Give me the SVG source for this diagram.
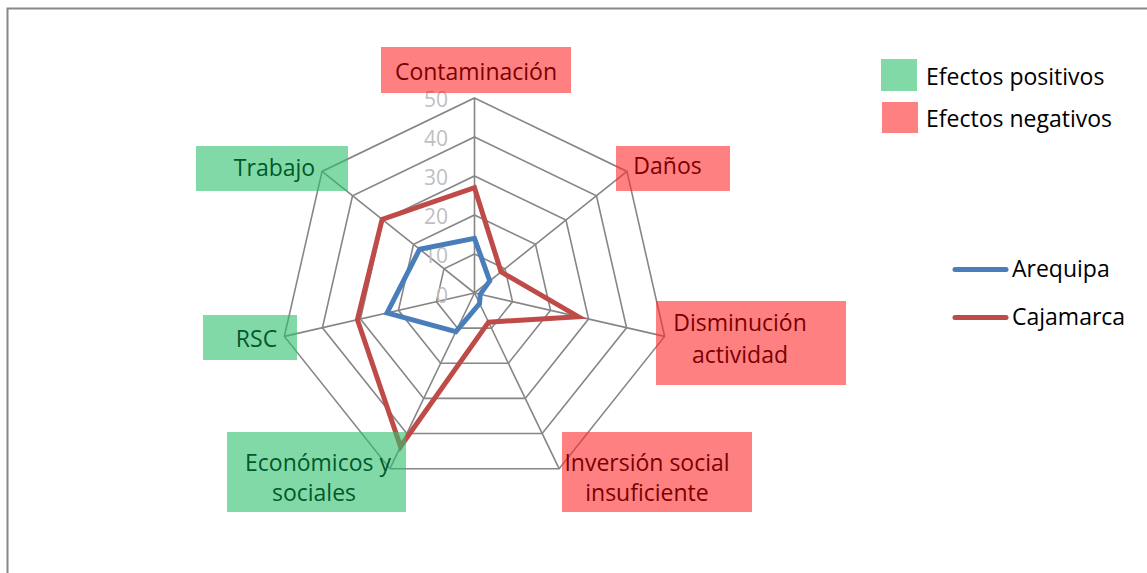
<svg xmlns="http://www.w3.org/2000/svg" width="1147" height="573" viewBox="0 0 1147 573">
<style>
.grid{fill:none;stroke:#868686;stroke-width:1.6}
.tick{font-family:"Open Sans","Liberation Sans",sans-serif;font-size:21px;fill:#BFBFBF;text-anchor:end}
.lbl{font-family:"Open Sans","Liberation Sans",sans-serif;font-size:23px;text-anchor:middle}
.neg rect{fill:#FF2B2B;fill-opacity:0.6}
.pos rect{fill:#2FC06E;fill-opacity:0.6}
.neg text{fill:#7A0000}
.pos text{fill:#005A2A}
.leg{font-family:"Open Sans","Liberation Sans",sans-serif;font-size:23px;fill:#000}
.ser{fill:none;stroke-width:5;stroke-linejoin:miter}
</style>
<rect x="0" y="0" width="1147" height="573" fill="#FFFFFF"/>
<path d="M7.5,573 V8.5 H1147" fill="none" stroke="#888888" stroke-width="2"/>
<g id="grid">
<polygon class="grid" points="474.5,254 504.99,268.68 512.52,301.68 491.42,328.14 457.58,328.14 436.48,301.68 444.01,268.68"/>
<polygon class="grid" points="474.5,215 535.48,244.37 550.54,310.36 508.34,363.28 440.66,363.28 398.46,310.36 413.52,244.37"/>
<polygon class="grid" points="474.5,176 565.97,220.05 588.56,319.03 525.27,398.42 423.73,398.42 360.44,319.03 383.03,220.05"/>
<polygon class="grid" points="474.5,137 596.46,195.73 626.58,327.71 542.19,433.56 406.81,433.56 322.42,327.71 352.54,195.73"/>
<polygon class="grid" points="474.5,98 626.95,171.42 664.61,336.39 559.11,468.7 389.89,468.7 284.39,336.39 322.05,171.42"/>
<path class="grid" d="M474.5,293 L474.5,98 M474.5,293 L626.95,171.42 M474.5,293 L664.61,336.39 M474.5,293 L559.11,468.7 M474.5,293 L389.89,468.7 M474.5,293 L284.39,336.39 M474.5,293 L322.05,171.42"/>
</g>
<g id="ticks">
<text class="tick" x="448" y="107">50</text>
<text class="tick" x="448" y="146">40</text>
<text class="tick" x="448" y="185">30</text>
<text class="tick" x="448" y="224">20</text>
<text class="tick" x="448" y="263">10</text>
<text class="tick" x="448" y="303">0</text>
</g>
<g id="connectors">
<polygon id="arequipa" class="ser" stroke="#4A7EBB" points="474.5,238.4 489.75,280.84 480.2,294.3 479.58,303.54 455.89,331.65 387.05,312.96 419.62,249.23"/>
<polygon id="cajamarca" class="ser" stroke="#BE4B48" points="474.5,187.7 501.03,271.84 578.3,316.69 488.55,322.17 400.55,446.56 357.4,319.73 382.11,219.32"/>
</g>
<g id="node-contaminacion" class="neg">
<rect x="381" y="47" width="190" height="46"/>
<text class="lbl" x="476" y="80">Contaminación</text>
</g>
<g id="node-danos" class="neg">
<rect x="616" y="146" width="114" height="45"/>
<text class="lbl" x="667.5" y="174">Daños</text>
</g>
<g id="node-disminucion" class="neg">
<rect x="656" y="301" width="190" height="84"/>
<text class="lbl" x="740" y="331">Disminución</text>
<text class="lbl" x="740" y="363">actividad</text>
</g>
<g id="node-inversion" class="neg">
<rect x="562" y="432" width="190" height="80"/>
<text class="lbl" x="647" y="471">Inversión social</text>
<text class="lbl" x="647" y="501">insuficiente</text>
</g>
<g id="node-economicos" class="pos">
<rect x="227" y="432" width="179" height="80"/>
<text class="lbl" x="318" y="471">Económicos y</text>
<text class="lbl" x="314" y="501">sociales</text>
</g>
<g id="node-rsc" class="pos">
<rect x="203" y="315" width="94" height="45"/>
<text class="lbl" x="256.5" y="347">RSC</text>
</g>
<g id="node-trabajo" class="pos">
<rect x="196" y="146" width="152" height="45"/>
<text class="lbl" x="274.5" y="176">Trabajo</text>
</g>
<g id="legend-effects">
<rect x="881" y="59" width="36" height="32" fill="#82D9A8"/>
<text class="leg" x="926" y="85">Efectos positivos</text>
<rect x="882" y="102" width="36" height="31" fill="#FF8080"/>
<text class="leg" x="926" y="127">Efectos negativos</text>
</g>
<g id="legend-series">
<line x1="955" y1="269.5" x2="1006" y2="269.5" stroke="#4A7EBB" stroke-width="5" stroke-linecap="round"/>
<text class="leg" x="1012" y="277">Arequipa</text>
<line x1="955" y1="317.5" x2="1006" y2="317.5" stroke="#BE4B48" stroke-width="5" stroke-linecap="round"/>
<text class="leg" x="1012" y="325">Cajamarca</text>
</g>
</svg>
